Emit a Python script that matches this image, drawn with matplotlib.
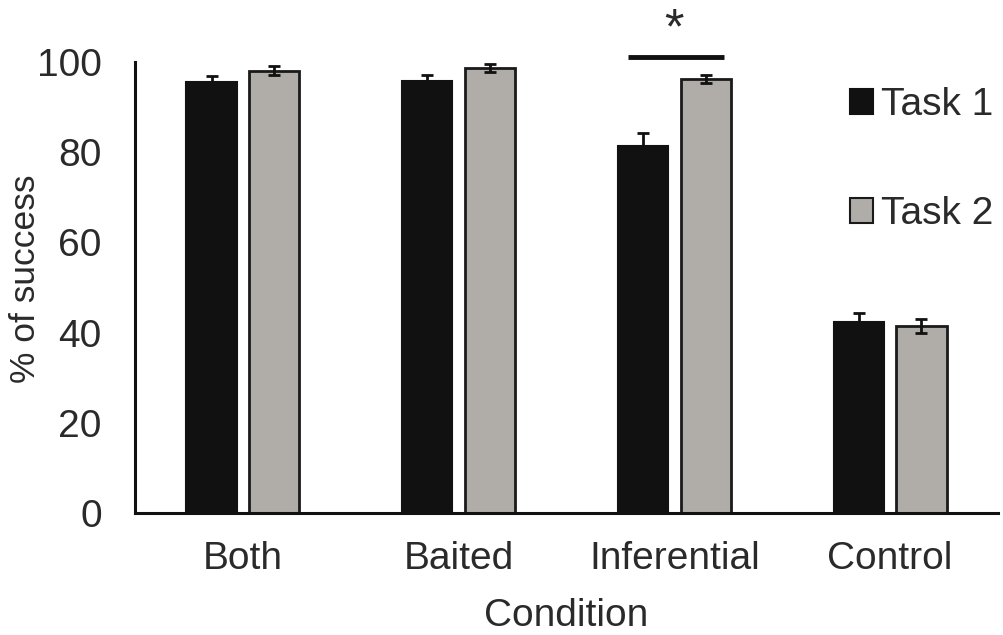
import numpy as np
import matplotlib.pyplot as plt
from matplotlib.patches import Patch

plt.rcParams['font.family'] = ['Liberation Sans', 'DejaVu Sans']

conditions = ['Both', 'Baited', 'Inferential', 'Control']
task1 = [95.6, 95.7, 81.4, 42.4]
task2 = [98.1, 98.7, 96.2, 41.5]
err1 = [1.4, 1.5, 2.9, 1.9]
err2 = [0.9, 0.9, 0.9, 1.5]

black = '#111111'
grey = '#b0aca8'
txt = '#2a2a2a'

fig = plt.figure(figsize=(10.04, 6.35), dpi=100)
ax = fig.add_axes([0.1345, 0.1921, 0.8595, 0.7103])

x = np.arange(len(conditions))
w = 0.233
off = 0.145

ax.bar(x - off, task1, w, color=black, edgecolor=black, linewidth=1.5,
       yerr=err1, error_kw=dict(ecolor=black, elinewidth=2, capsize=4, capthick=2))
ax.bar(x + off, task2, w, color=grey, edgecolor='#1a1a1a', linewidth=2,
       yerr=err2, error_kw=dict(ecolor=black, elinewidth=2, capsize=4, capthick=2))

# significance marker over Inferential
ax.plot([2 - 0.214, 2 + 0.228], [101, 101], color=black, lw=3.5, clip_on=False,
        solid_capstyle='butt')
ax.text(2.0, 107.0, '*', ha='center', va='center', fontsize=36, color=txt, clip_on=False)

ax.set_xlim(-0.5, 3.5)
ax.set_ylim(0, 100)
ax.set_yticks([0, 20, 40, 60, 80, 100])
ax.set_xticks(x)
ax.set_xticklabels(conditions)
ax.tick_params(axis='both', length=0, labelsize=28, colors=txt)
ax.tick_params(axis='y', pad=24)
ax.tick_params(axis='x', pad=20)

for s in ['top', 'right']:
    ax.spines[s].set_visible(False)
for s in ['left', 'bottom']:
    ax.spines[s].set_linewidth(2.2)
    ax.spines[s].set_color(black)

ax.set_ylabel('% of success', fontsize=25.5, color=txt)
ax.yaxis.set_label_coords(-0.108, 0.52)
ax.set_xlabel('Condition', fontsize=28, color=txt, labelpad=15)

handles = [Patch(facecolor=black, edgecolor=black, linewidth=1.5),
           Patch(facecolor=grey, edgecolor='#1a1a1a', linewidth=1.5)]
leg = ax.legend(handles, ['Task 1', 'Task 2'], loc='upper left',
                bbox_to_anchor=(850 / 1004, 1 - 87 / 635), bbox_transform=fig.transFigure,
                frameon=False, fontsize=28, handlelength=0.6, handleheight=0.6,
                handletextpad=0.2, labelspacing=1.88, borderpad=0, borderaxespad=0)
for t in leg.get_texts():
    t.set_color(txt)

fig.savefig('out.png', dpi=100)
